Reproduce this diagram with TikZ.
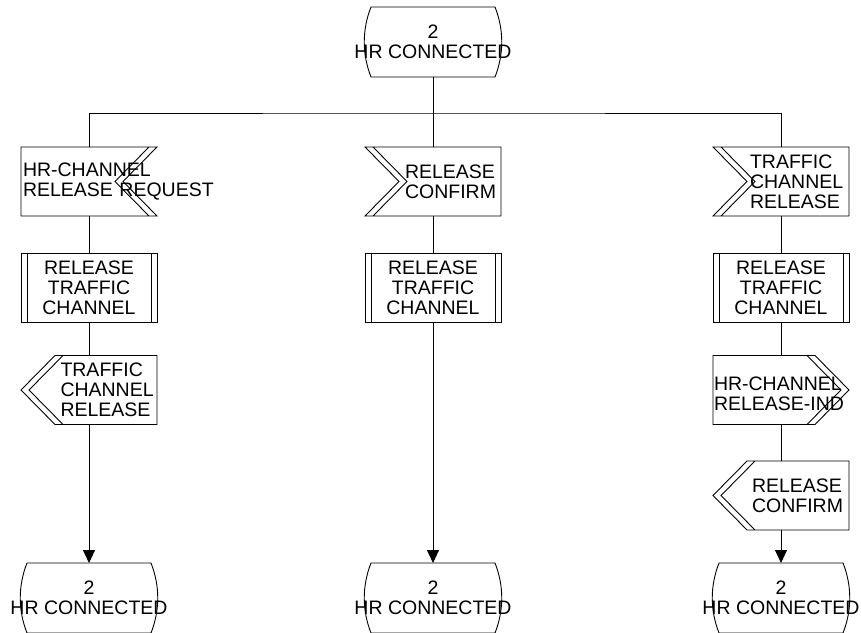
\documentclass[tikz,border=0pt]{standalone}
\usepackage{fontspec}
\setmainfont{Liberation Sans}
\usetikzlibrary{arrows.meta}
\hyphenpenalty=10000
\exhyphenpenalty=10000

\tikzset{
  sym/.style={minimum width=136pt, minimum height=69pt, inner sep=0pt, outer sep=0pt},
  state/.style={sym, minimum height=70pt, align=center},
  txt/.style={sym, align=left, text width=#1},
  proc/.style={sym, align=center}
}

\begin{document}
\begin{tikzpicture}[x=1pt, y=1pt, line width=0.9pt, font=\fontsize{19.5}{20}\selectfont]
  \clip (0,0) rectangle (861,632);
  % states
  \node[state] (top) at (433,590) {2\\HR CONNECTED};
  \foreach \n/\x in {endL/89, endM/433, endR/781}
    \node[state] (\n) at (\x,34) {2\\HR CONNECTED};
  % inputs
  \node[txt=132pt] (inL) at (89,450.5) {HR-CHANNEL\\RELEASE~REQUEST};
  \node[txt=56pt] (inM) at (433,450.5) {RELEASE\\CONFIRM};
  \node[txt=62pt] (inR) at (781,450.5) {TRAFFIC\\CHANNEL\\RELEASE};
  % procedures
  \foreach \n/\x in {prL/89, prM/433, prR/781}
    \node[proc] (\n) at (\x,344.5) {RELEASE\\TRAFFIC\\CHANNEL};
  % outputs
  \node[txt=57pt] (outL) at (89,242) {TRAFFIC\\CHANNEL\\RELEASE};
  \node[txt=134pt, text depth=12pt] (outR) at (781,242) {HR-CHANNEL\\RELEASE-IND};
  \node[txt=58pt] (ackR) at (781,136.5) {RELEASE\\CONFIRM};

  % outlines
  \foreach \s in {top, endL, endM, endR}
    \draw[shift={(\s.center)}] (-62,35) -- (62,35) .. controls (71,12) and (71,-12) .. (62,-35)
      -- (-62,-35) .. controls (-71,-12) and (-71,12) .. cycle;
  \foreach \s/\d in {inL/-1, inM/1, inR/1}
    \draw[shift={(\s.center)}, xscale=\d] (-68,34.5) -- (68,34.5) -- (68,-34.5) -- (-68,-34.5) -- (-34,0) -- cycle
      (-60,34.5) -- (-26,0) -- (-60,-34.5);
  \foreach \s in {prL, prM, prR}
    \draw[shift={(\s.center)}] (-68,-34.5) rectangle (68,34.5)
      (-62,-34.5) -- (-62,34.5) (62,-34.5) -- (62,34.5);
  \foreach \s/\d in {outL/1, outR/-1, ackR/1}
    \draw[shift={(\s.center)}, xscale=\d] (-34,34.5) -- (68,34.5) -- (68,-34.5) -- (-34,-34.5) -- (-68,0) -- cycle
      (-26,34.5) -- (-60,0) -- (-26,-34.5);

  % connectors
  \coordinate (fork) at (433,519);
  \draw (top) -- (fork);
  \draw (inL.north) |- (fork) -| (inR.north);
  \draw (fork) -- (inM);
  \draw (inL) -- (prL) (prL) -- (outL);
  \draw (inM) -- (prM);
  \draw (inR) -- (prR) (prR) -- (outR) (outR) -- (ackR);
  \draw[-{Triangle[length=13pt,width=12pt]}] (outL) -- (endL);
  \draw[-{Triangle[length=13pt,width=12pt]}] (prM) -- (endM);
  \draw[-{Triangle[length=13pt,width=12pt]}] (ackR) -- (endR);
\end{tikzpicture}
\end{document}
